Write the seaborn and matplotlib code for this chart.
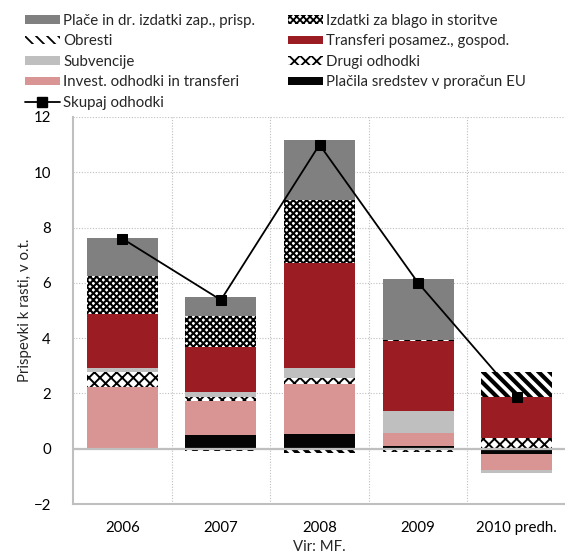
import matplotlib.pyplot as plt
import numpy as np
import seaborn as sns
from matplotlib.lines import Line2D
from matplotlib.patches import Patch

years = ["2006", "2007", "2008", "2009", "2010 predh."]

# contributions to growth, percentage points (stacked bottom -> top)
eu = [0.0, 0.51, 0.53, 0.10, -0.20]
invest = [2.24, 1.20, 1.81, 0.46, -0.58]
drugi = [0.54, 0.17, 0.22, -0.12, 0.37]
subvencije = [0.13, 0.16, 0.36, 0.79, -0.10]
transferi = [1.98, 1.65, 3.80, 2.55, 1.51]
obresti = [0.0, -0.10, -0.14, 0.05, 0.91]
blago = [1.36, 1.10, 2.26, 0.0, 0.0]
place = [1.36, 0.69, 2.17, 2.20, 0.0]
skupaj = [7.6, 5.38, 11.0, 6.0, 1.88]

FONT = ["Lato", "DejaVu Sans"]
FS = 10.8
GRID = "#BFBFBF"

sns.set_theme(style="white")
plt.rcParams["font.family"] = FONT

# label, values, face colour, hatch, hatch linewidth
layers = [
    ("Plačila sredstev v proračun EU", eu, "#050505", None, 1.0),
    ("Invest. odhodki in transferi", invest, "#D99594", None, 1.0),
    ("Drugi odhodki", drugi, "white", "xxx", 1.4),
    ("Subvencije", subvencije, "#BFBFBF", None, 1.0),
    ("Transferi posamez., gospod.", transferi, "#9B1C22", None, 1.0),
    ("Obresti", obresti, "white", "\\\\\\", 3.0),
    ("Izdatki za blago in storitve", blago, "white", "xxxxx", 1.5),
    ("Plače in dr. izdatki zap., prisp.", place, "#808080", None, 1.0),
]

fig = plt.figure(figsize=(5.65, 5.58), dpi=100)
ax = fig.add_axes([73 / 565, 54 / 558, 493 / 565, 387 / 558])

# cumulative heights, positives and negatives stacked separately
pos = np.zeros(len(years))
neg = np.zeros(len(years))
tops = []
for _, vals, _, _, _ in layers:
    v = np.array(vals)
    pos = pos + np.clip(v, 0, None)
    neg = neg + np.clip(v, None, 0)
    tops.append((pos.copy(), neg.copy()))

# draw from the outermost layer inwards so lower layers paint over
for (label, vals, face, hatch, hlw), (p, n) in reversed(list(zip(layers, tops))):
    plt.rcParams["hatch.linewidth"] = hlw
    for h in (p, n):
        before = len(ax.patches)
        sns.barplot(x=years, y=h, color=face, saturation=1, width=0.72,
                    errorbar=None, hatch=hatch, edgecolor="black" if hatch else face,
                    linewidth=0, ax=ax)
        for patch in ax.patches[before:]:
            if hasattr(patch, "set_hatch_linewidth"):
                patch.set_hatch_linewidth(hlw)

sns.lineplot(x=np.arange(len(years)), y=skupaj, color="black", marker="s",
             markersize=6.5, markeredgecolor="black", linewidth=1.3, sort=False, ax=ax)

ax.axhline(0, color=GRID, lw=1.6, zorder=1.5)
ax.set_ylim(-2, 12)
ax.set_xlim(-0.5, 4.5)
ax.set_yticks(range(-2, 13, 2))
ax.set_xticks(np.arange(0.5, 4.5, 1), minor=True)
ax.grid(False)
ax.yaxis.grid(True, color=GRID, linestyle=(0, (1, 1.5)), lw=0.8)
ax.xaxis.grid(True, which="minor", color=GRID, linestyle=(0, (1, 1.5)), lw=0.8)
ax.set_axisbelow(True)
for s in ("top", "right"):
    ax.spines[s].set_visible(False)
for s in ("left", "bottom"):
    ax.spines[s].set_color(GRID)
    ax.spines[s].set_linewidth(1.5)
ax.tick_params(axis="both", which="both", length=0, labelsize=FS, colors="black")
ax.tick_params(axis="y", pad=16)
ax.tick_params(axis="x", pad=12)

ax.set_ylabel("Prispevki k rasti, v o.t.", fontsize=FS)
ax.yaxis.set_label_coords(-0.083, 0.5)
ax.set_xlabel("Vir: MF.", fontsize=FS, labelpad=4)

plt.rcParams["hatch.linewidth"] = 1.3
style = {lab: (face, hatch, hlw) for lab, _, face, hatch, hlw in layers}


def patch(label):
    face, hatch, hlw = style[label]
    p = Patch(facecolor=face, edgecolor="black" if hatch else face, hatch=hatch,
              linewidth=0, label=label)
    if hasattr(p, "set_hatch_linewidth"):
        p.set_hatch_linewidth(min(hlw, 2.0))
    return p


col1 = ["Plače in dr. izdatki zap., prisp.", "Obresti", "Subvencije",
        "Invest. odhodki in transferi"]
col2 = ["Izdatki za blago in storitve", "Transferi posamez., gospod.",
        "Drugi odhodki", "Plačila sredstev v proračun EU"]
handles = [patch(l) for l in col1]
handles.append(Line2D([], [], color="black", marker="s", markersize=6.5, lw=1.3,
                      label="Skupaj odhodki"))
handles += [patch(l) for l in col2]

fig.legend(handles=handles, loc="upper left", bbox_to_anchor=(0.044, 0.975), ncol=2,
           frameon=False, fontsize=FS, handlelength=2.35, handleheight=0.5,
           handletextpad=0.2, labelspacing=0.43, columnspacing=2.2,
           borderpad=0, borderaxespad=0)

fig.savefig("out.png", dpi=100)
